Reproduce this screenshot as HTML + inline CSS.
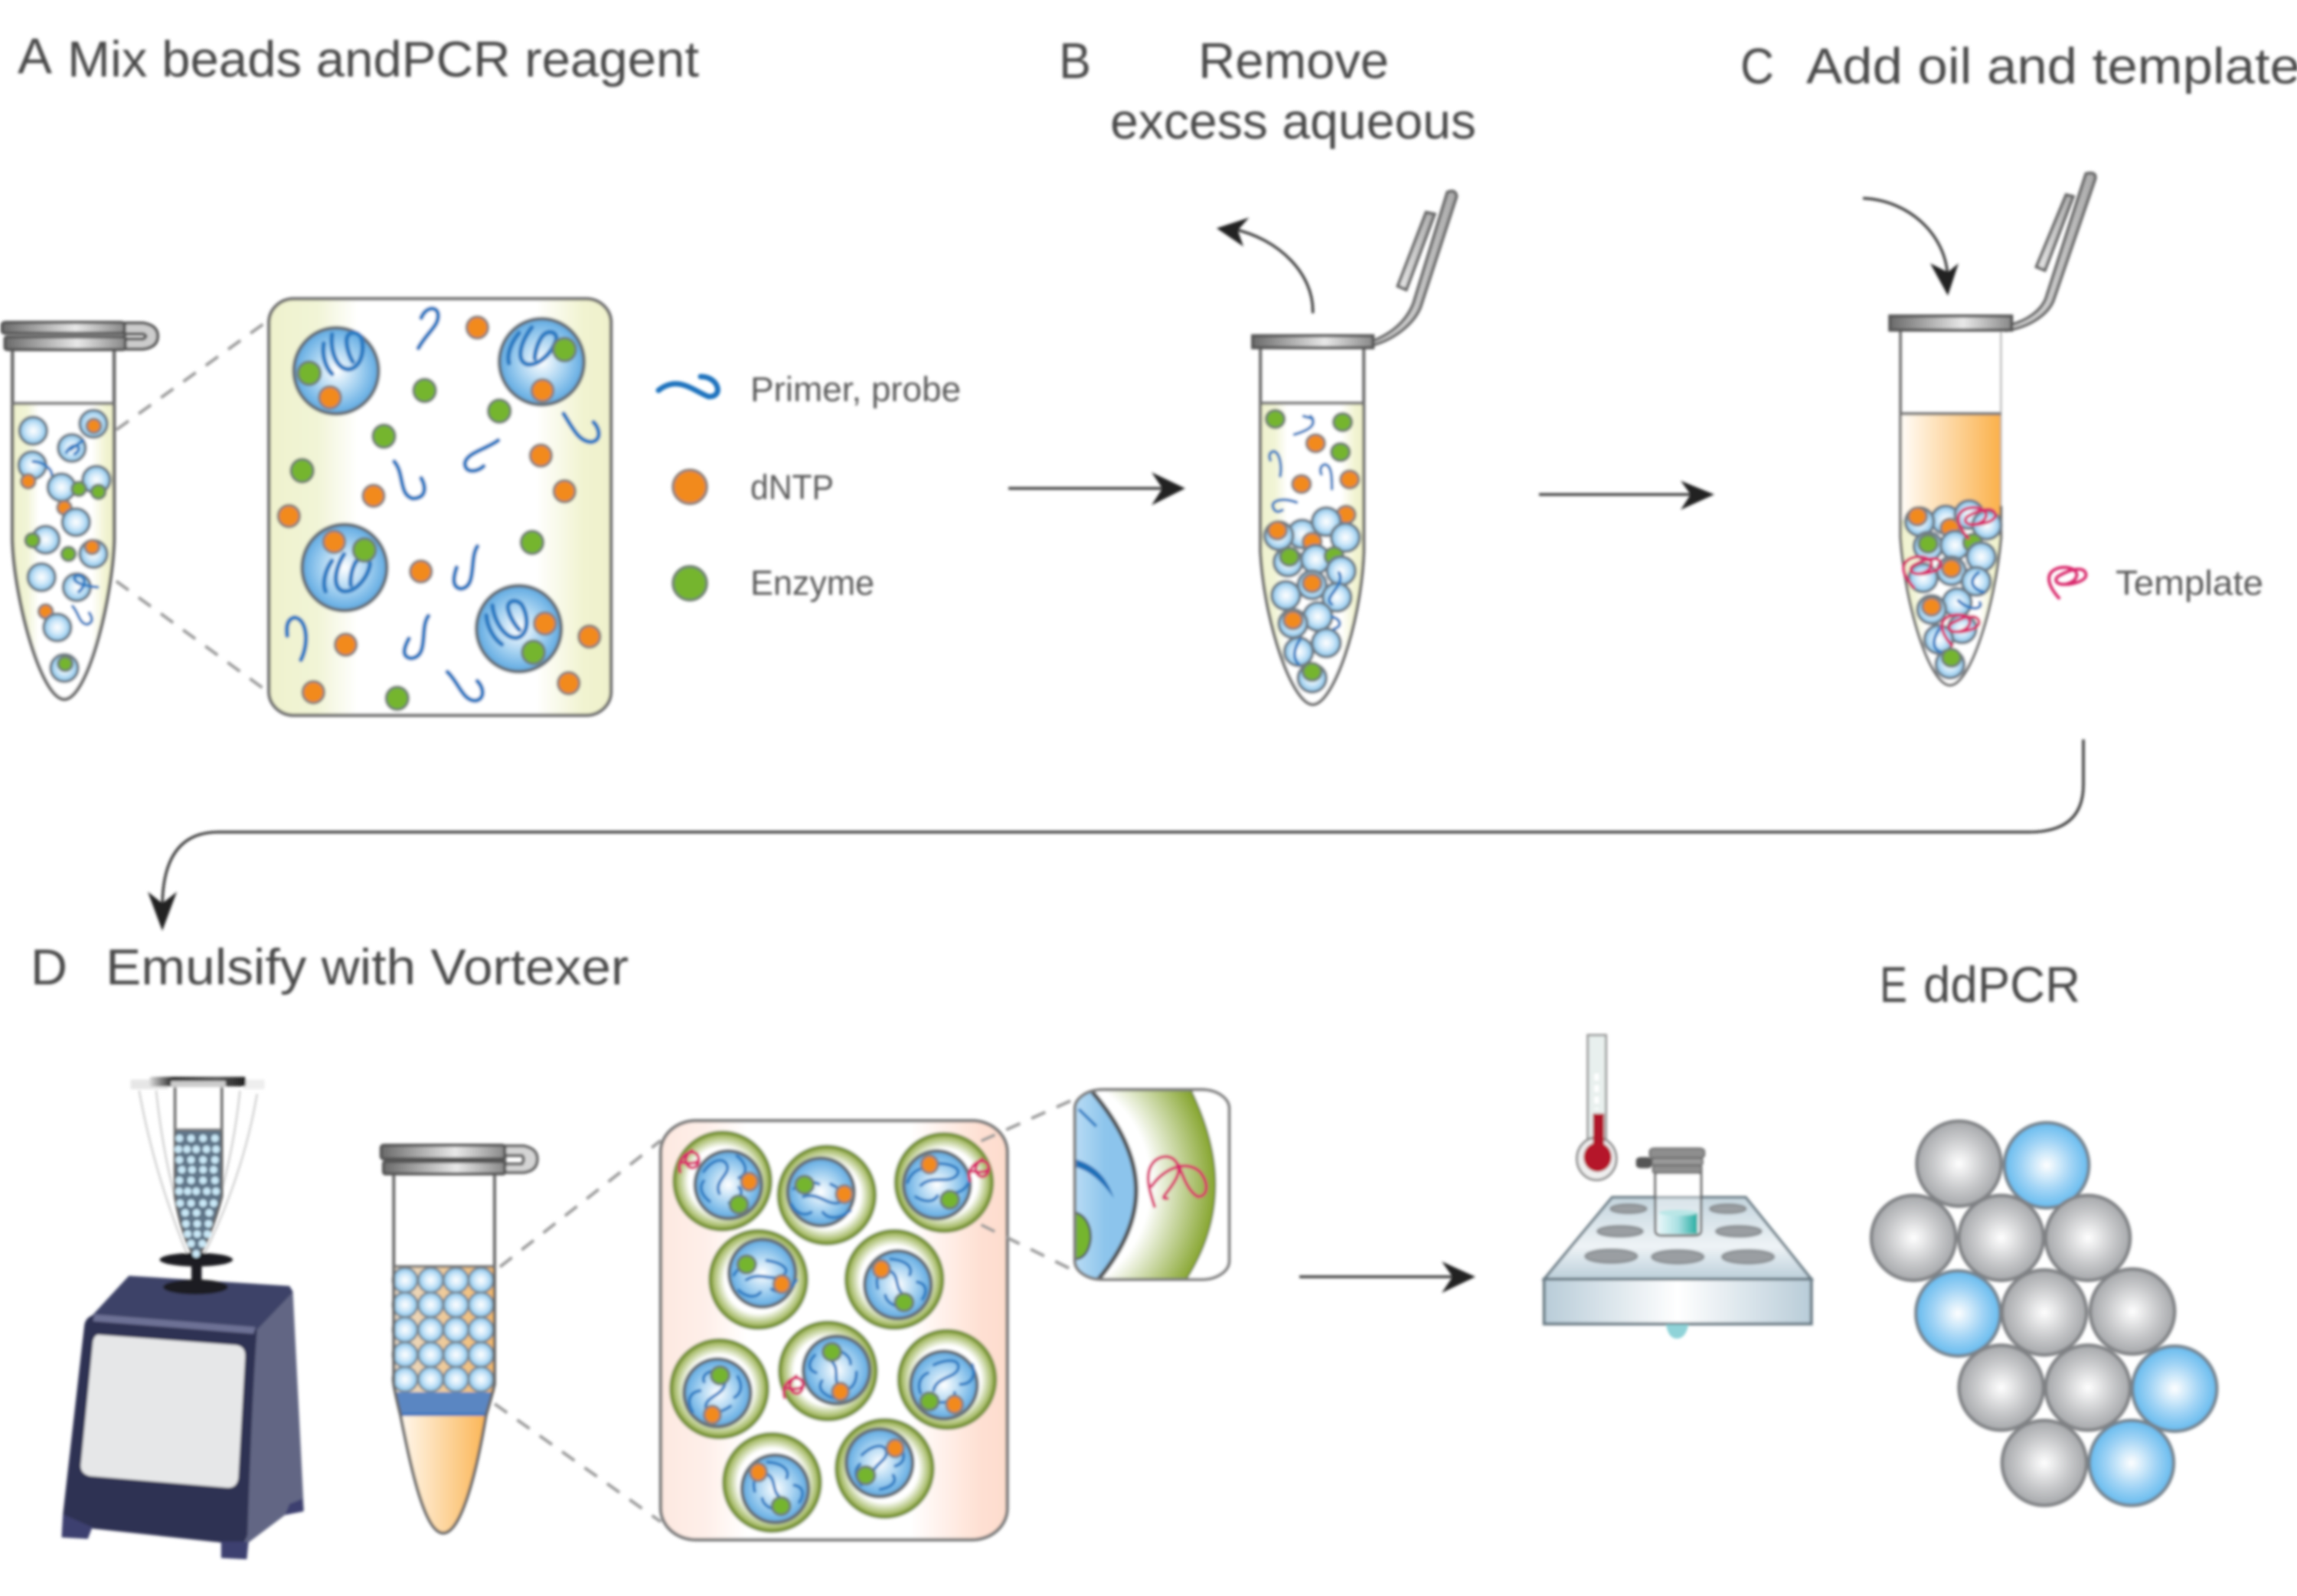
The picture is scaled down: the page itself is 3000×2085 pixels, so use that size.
<!DOCTYPE html>
<html><head><meta charset="utf-8"><title>ddPCR workflow</title>
<style>
html,body{margin:0;padding:0;background:#fff;width:3000px;height:2085px;overflow:hidden}
svg{display:block}
svg *{vector-effect:non-scaling-stroke}
text{font-family:"Liberation Sans",sans-serif;fill:#4a4a4a;stroke:none}
.t{font-size:66px}
.s{font-size:45px;fill:#5a5a5a}
.d{stroke:#999;stroke-width:4;stroke-dasharray:20 16;fill:none}
.bl{stroke:#2a7cc2;stroke-width:6;fill:none;stroke-linecap:round}
.bs{stroke:#2a7cc2;stroke-width:4;fill:none;stroke-linecap:round}
.ar{stroke:#3a3a3a;stroke-width:3.5;fill:none}
.o{fill:#f28a1e;stroke:#8a7f78;stroke-width:3.5}
.g{fill:#74b52f;stroke:#6f7f70;stroke-width:3.5}
.b{fill:url(#bead);stroke:#6f7d88;stroke-width:4}
.B{fill:url(#big);stroke:#66727c;stroke-width:5}
.p{stroke:#d8266a;stroke-width:4;fill:none}
.oo{fill:url(#ring);stroke:#7e9740;stroke-width:5.5}
.s1{fill:url(#gs);stroke:#808285;stroke-width:4.5}
.s2{fill:url(#bs);stroke:#76848f;stroke-width:4.5}
.w{fill:#9a9ea2;stroke:#8a8f93;stroke-width:3}
.cap{fill:url(#cap);stroke:#555;stroke-width:4}
.lid{fill:url(#lid);stroke:#666;stroke-width:4}
</style></head>
<body>
<svg xmlns="http://www.w3.org/2000/svg" width="3000" height="2085" viewBox="0 0 3000 2085">
<defs>
<filter id="bl" x="0" y="0" width="3000" height="2085" filterUnits="userSpaceOnUse"><feGaussianBlur stdDeviation="1.9"/></filter>
<radialGradient id="bead"><stop offset="0" stop-color="#fff"/><stop offset=".5" stop-color="#cfe8f9"/><stop offset="1" stop-color="#84c2ea"/></radialGradient>
<radialGradient id="big"><stop offset="0" stop-color="#fff"/><stop offset=".55" stop-color="#a6d2f1"/><stop offset="1" stop-color="#5ea9e1"/></radialGradient>
<radialGradient id="ring"><stop offset="0" stop-color="#fff"/><stop offset=".7" stop-color="#fff"/><stop offset="1" stop-color="#8fa93f"/></radialGradient>
<radialGradient id="gs"><stop offset="0" stop-color="#fff"/><stop offset=".6" stop-color="#c8c9cb"/><stop offset="1" stop-color="#a6a8ab"/></radialGradient>
<radialGradient id="bs"><stop offset="0" stop-color="#fff"/><stop offset=".6" stop-color="#9fd3f5"/><stop offset="1" stop-color="#66bbef"/></radialGradient>
<linearGradient id="yel"><stop offset="0" stop-color="#eff2cd"/><stop offset=".14" stop-color="#f1f4d6"/><stop offset=".26" stop-color="#fff"/><stop offset=".78" stop-color="#fff"/><stop offset=".92" stop-color="#f1f3d0"/><stop offset="1" stop-color="#eff1cc"/></linearGradient>
<linearGradient id="pink"><stop offset="0" stop-color="#fde8e0"/><stop offset=".13" stop-color="#feefe9"/><stop offset=".25" stop-color="#fff"/><stop offset=".72" stop-color="#fff"/><stop offset=".92" stop-color="#fee0d3"/><stop offset="1" stop-color="#fddccd"/></linearGradient>
<linearGradient id="oil"><stop offset="0" stop-color="#fffdf9"/><stop offset="1" stop-color="#fbb049"/></linearGradient>
<linearGradient id="gel"><stop offset="0" stop-color="#e9dccb"/><stop offset="1" stop-color="#f3b96a"/></linearGradient>
<linearGradient id="cap"><stop offset="0" stop-color="#6a6a6a"/><stop offset=".6" stop-color="#e8e8e8"/><stop offset="1" stop-color="#888"/></linearGradient>
<linearGradient id="lid" x1="0" x2="1"><stop offset="0" stop-color="#e8e8e8"/><stop offset="1" stop-color="#aaa"/></linearGradient>
<linearGradient id="capd"><stop offset="0" stop-color="#ddd"/><stop offset=".25" stop-color="#222"/><stop offset=".7" stop-color="#555"/><stop offset="1" stop-color="#222"/></linearGradient>
<linearGradient id="blk"><stop offset="0" stop-color="#b8ccd8"/><stop offset=".5" stop-color="#fff"/><stop offset="1" stop-color="#b8ccd8"/></linearGradient>
<linearGradient id="blk2" x2="0" y2="1"><stop offset="0" stop-color="#c4d5de"/><stop offset=".6" stop-color="#eef3f6"/><stop offset="1" stop-color="#bccfda"/></linearGradient>
<linearGradient id="liq"><stop offset="0" stop-color="#e4f6f8"/><stop offset=".5" stop-color="#a9e0e2"/><stop offset="1" stop-color="#25ada1"/></linearGradient>
<radialGradient id="zr" gradientUnits="userSpaceOnUse" cx="1004" cy="360" r="461" gradientTransform="translate(0,360) scale(1,1.25) translate(0,-360)"><stop offset=".64" stop-color="#fff"/><stop offset="1" stop-color="#86a52e"/></radialGradient>
<linearGradient id="zb"><stop offset="0" stop-color="#b9dcf5"/><stop offset=".5" stop-color="#8dc5ec"/><stop offset="1" stop-color="#8cc4ec"/></linearGradient>
<clipPath id="zc"><rect x="1105" y="58" width="395" height="607" rx="70" ry="60"/></clipPath>

<ellipse id="a_b" class="b" rx="33" ry="45"/>
<ellipse id="a_o" class="o" rx="17" ry="23"/>
<ellipse id="a_g" class="g" rx="17" ry="23"/>
<ellipse id="a_O" class="o" rx="26" ry="36"/>
<ellipse id="a_G" class="g" rx="27" ry="38"/>
<ellipse id="a_B" class="B" rx="102" ry="142"/>
<g id="a_S"><path class="bl" d="M-25 -80 C-30 -30 -15 35 15 35 C45 30 55 -30 45 -70 C35 -95 10 -90 10 -60 C10 -30 20 0 25 10"/><path class="bl" d="M-45 -50 C-50 -10 -40 30 -25 50"/></g>

<ellipse id="b_b" class="b" rx="20" ry="40"/>
<ellipse id="b_o" class="o" rx="13" ry="25"/>
<ellipse id="b_g" class="g" rx="13" ry="25"/>
<path id="b_T" class="p" d="M-10 50 C-28 10 -32 -25 -12 -38 C10 -48 22 -20 8 0 C-8 20 -22 0 -12 -15 C5 -35 25 -45 27 -20 C28 0 5 10 -5 8"/>

<ellipse id="c_d" fill="#c9e8f7" rx="11" ry="11"/>
<ellipse id="c_B" fill="url(#bead)" stroke="#7b8994" stroke-width="3" rx="36" ry="36"/>

<ellipse id="d_O" class="oo" rx="123" ry="155"/>
<ellipse id="d_I" class="B" rx="85" ry="108"/>
<ellipse id="d_o" class="o" rx="21" ry="28"/>
<ellipse id="d_g" class="g" rx="23" ry="28"/>
<g id="d_S"><path class="bs" d="M-50 -25 C-30 -60 0 -75 10 -45 C18 -15 -25 5 -10 45 M-35 70 C-60 45 -60 20 -50 5 M35 -75 C60 -50 65 -20 40 -5 M15 75 C40 65 55 45 40 25"/></g>
<path id="d_T" class="p" d="M-22 35 C-35 -5 -5 -40 15 -30 C35 -15 20 30 0 15 C-15 0 -10 -25 10 -40 M-22 0 C0 5 20 5 25 -10"/>

<ellipse id="e_g" class="s1" rx="90" ry="130"/>
<ellipse id="e_b" class="s2" rx="90" ry="130"/>
</defs>
<rect width="3000" height="2085" fill="#fff"/>
<g filter="url(#bl)">

<!-- Titles -->
<text class="t" x="23" y="96" textLength="45" lengthAdjust="spacingAndGlyphs">A</text>
<text class="t" x="88" y="100" textLength="825" lengthAdjust="spacingAndGlyphs">Mix beads andPCR reagent</text>
<text class="t" x="1383" y="102" textLength="42" lengthAdjust="spacingAndGlyphs">B</text>
<text class="t" x="1565" y="102" textLength="249" lengthAdjust="spacingAndGlyphs">Remove</text>
<text class="t" x="1450" y="181" textLength="478" lengthAdjust="spacingAndGlyphs">excess aqueous</text>
<text class="t" x="2273" y="109" textLength="44" lengthAdjust="spacingAndGlyphs">C</text>
<text class="t" x="2359" y="109" textLength="645" lengthAdjust="spacingAndGlyphs">Add oil and template</text>
<text class="t" x="40" y="1286" textLength="48" lengthAdjust="spacingAndGlyphs">D</text>
<text class="t" x="138" y="1286" textLength="683" lengthAdjust="spacingAndGlyphs">Emulsify with Vortexer</text>
<text class="t" x="2455" y="1309" textLength="36" lengthAdjust="spacingAndGlyphs">E</text>
<text class="t" x="2512" y="1309" textLength="205" lengthAdjust="spacingAndGlyphs">ddPCR</text>
<text class="s" x="980" y="524" textLength="275" lengthAdjust="spacingAndGlyphs">Primer, probe</text>
<text class="s" x="980" y="652" textLength="109" lengthAdjust="spacingAndGlyphs">dNTP</text>
<text class="s" x="980" y="777" textLength="162" lengthAdjust="spacingAndGlyphs">Enzyme</text>
<text class="s" x="2763" y="777" textLength="193" lengthAdjust="spacingAndGlyphs">Template</text>

<!-- Legend -->
<path d="M860 510 C885 490 905 510 925 518 C945 520 940 492 915 492" fill="none" stroke="#1f72bd" stroke-width="7" stroke-linecap="round"/>
<circle class="o" cx="901" cy="636" r="22"/>
<circle class="g" cx="901" cy="762" r="22"/>

<!-- Straight and long arrows -->
<path class="ar" d="M1317 638 H1530"/><path fill="#222" d="M1548 638 L1504 617 L1518 638 L1504 660Z"/>
<path class="ar" d="M2010 646 H2225"/><path fill="#222" d="M2239 646 L2195 628 L2208 646 L2195 666Z"/>
<path class="ar" d="M1697 1668 H1910"/><path fill="#222" d="M1927 1668 L1883 1648 L1897 1668 L1883 1689Z"/>
<path class="ar" d="M2721 966 V1025 Q2721 1087 2650 1087 H285 Q212 1087 212 1185"/>
<path fill="#222" d="M212 1216 L193 1165 L212 1180 L231 1165Z"/>

<!-- Panel A -->
<g transform="translate(0,350) scale(.5421,.3954)">
 <path d="M30 448 H275 V900 C275 1100 210 1425 155 1425 C100 1425 30 1100 30 900Z" fill="url(#yel)"/>
 <path d="M30 270 V900 C35 1100 100 1425 155 1425 C210 1425 270 1100 275 900 V270" fill="none" stroke="#666" stroke-width="4.5"/>
 <path d="M30 448 H275" stroke="#777" stroke-width="4"/>
 <path d="M300 182 H345 Q380 190 380 225 Q380 262 345 268 H300Z M300 218 H345 Q358 225 345 235 H300Z" fill="#ccc" stroke="#555" stroke-width="4" fill-rule="evenodd"/>
 <rect class="cap" x="5" y="180" width="295" height="36" rx="8"/>
 <rect class="cap" x="12" y="228" width="290" height="42" rx="6"/>
 <use href="#a_b" x="80" y="538"/><use href="#a_b" x="225" y="515"/><use href="#a_o" x="226" y="522"/>
 <use href="#a_b" x="173" y="595"/><path class="bs" d="M160 610 C175 570 205 590 180 615 M200 570 L170 600"/>
 <use href="#a_b" x="78" y="652"/><path class="bs" d="M80 640 C100 640 125 660 125 685"/>
 <use href="#a_o" x="68" y="705"/><use href="#a_b" x="148" y="725"/><use href="#a_b" x="232" y="700"/>
 <use href="#a_g" x="190" y="730"/><use href="#a_g" x="237" y="740"/>
 <use href="#a_o" x="155" y="792"/><use href="#a_b" x="183" y="840"/>
 <use href="#a_b" x="110" y="898"/><use href="#a_g" x="78" y="900"/>
 <use href="#a_b" x="225" y="945"/><use href="#a_g" x="165" y="945"/><use href="#a_o" x="222" y="922"/>
 <use href="#a_b" x="100" y="1022"/><use href="#a_b" x="185" y="1055"/><path class="bs" d="M235 1055 C200 1050 175 1040 180 1020 C200 1005 215 1040 190 1070"/>
 <use href="#a_o" x="110" y="1135"/><use href="#a_b" x="138" y="1188"/>
 <path class="bs" d="M175 1118 C190 1140 190 1175 210 1178 C228 1170 220 1150 215 1140"/>
 <use href="#a_b" x="155" y="1322"/><use href="#a_g" x="157" y="1308"/>
 <path class="d" d="M280 535 L645 175 M280 1035 L640 1395"/>
 <rect x="648" y="102" width="824" height="1376" rx="60" ry="78" fill="url(#yel)" stroke="#6f6f6f" stroke-width="4.5"/>
 <use href="#a_B" x="810" y="340"/><use href="#a_S" transform="translate(825,300)"/><use href="#a_G" x="745" y="348"/><use href="#a_O" x="795" y="428"/>
 <use href="#a_B" x="1305" y="310"/><use href="#a_S" transform="translate(1270,280) rotate(25)"/><use href="#a_G" x="1360" y="270"/><use href="#a_O" x="1307" y="405"/>
 <use href="#a_B" x="830" y="990"/><use href="#a_S" transform="translate(825,1030) rotate(20)"/><use href="#a_O" x="805" y="905"/><use href="#a_G" x="878" y="932"/>
 <use href="#a_B" x="1250" y="1192"/><use href="#a_S" transform="translate(1225,1190) rotate(-10)"/><use href="#a_O" x="1313" y="1175"/><use href="#a_G" x="1285" y="1270"/>
 <use href="#a_O" x="1150" y="197"/><use href="#a_O" x="1303" y="620"/><use href="#a_O" x="1360" y="738"/><use href="#a_O" x="900" y="753"/><use href="#a_O" x="696" y="820"/><use href="#a_O" x="1014" y="1003"/><use href="#a_O" x="833" y="1245"/><use href="#a_O" x="1420" y="1218"/><use href="#a_O" x="1370" y="1372"/><use href="#a_O" x="755" y="1402"/>
 <use href="#a_G" x="1023" y="405"/><use href="#a_G" x="1203" y="473"/><use href="#a_G" x="925" y="556"/><use href="#a_G" x="728" y="670"/><use href="#a_G" x="1282" y="907"/><use href="#a_G" x="957" y="1422"/>
 <path class="bl" d="M1008 265 C1030 210 1060 190 1055 150 C1050 125 1025 130 1015 165"/>
 <path class="bl" d="M1358 482 C1380 530 1395 575 1425 575 C1450 570 1445 530 1430 510"/>
 <path class="bl" d="M1200 570 C1170 600 1125 610 1120 645 C1120 680 1150 675 1165 655"/>
 <path class="bl" d="M950 640 C975 680 960 750 995 762 C1030 760 1025 720 1015 695"/>
 <path class="bl" d="M1150 920 C1130 960 1150 1055 1110 1060 C1085 1055 1095 1010 1100 990"/>
 <path class="bl" d="M725 1295 C745 1240 740 1160 710 1155 C690 1160 690 1190 692 1215"/>
 <path class="bl" d="M1032 1150 C1010 1190 1035 1285 990 1290 C965 1285 975 1250 985 1225"/>
 <path class="bl" d="M1078 1335 C1105 1370 1115 1430 1145 1430 C1170 1425 1165 1385 1150 1365"/>
</g>

<!-- Panels B & C -->
<g transform="translate(1550,220) scale(.9247,.4592)">
 <path class="ar" d="M178 412 C180 300 130 200 65 172"/><path fill="#222" d="M42 170 L88 140 L72 176 L80 222Z"/>
 <path class="ar" d="M955 85 C1020 90 1075 190 1075 320"/><path fill="#222" d="M1075 362 L1050 270 L1075 295 L1090 270Z"/>
 <!-- tube B -->
 <path d="M104 668 H250 V1090 C246 1300 206 1525 178 1525 C150 1525 110 1300 104 1090Z" fill="url(#yel)"/>
 <path d="M104 510 V1090 C110 1300 150 1525 178 1525 C206 1525 246 1300 250 1090 V510" fill="none" stroke="#666" stroke-width="4"/>
 <path d="M104 668 H250" stroke="#777" stroke-width="4"/>
 <path d="M262 492 C290 470 310 435 320 385 L368 68 Q380 58 381 80 L330 395 C320 445 290 490 258 505Z" class="lid"/>
 <path d="M298 335 L338 125 L350 130 L310 345Z" class="lid"/>
 <rect class="cap" x="93" y="476" width="170" height="34"/>
 <use href="#b_g" x="125" y="713"/><use href="#b_g" x="220" y="722"/><use href="#b_g" x="217" y="807"/>
 <use href="#b_o" x="182" y="782"/><use href="#b_o" x="162" y="898"/><use href="#b_o" x="230" y="885"/><use href="#b_o" x="225" y="985"/>
 <path class="bs" d="M152 757 C172 745 185 730 175 705 M165 705 L178 712"/>
 <path class="bs" d="M132 875 C135 840 130 805 122 805 C116 808 116 820 118 830"/>
 <path class="bs" d="M205 912 C205 880 205 845 195 842 C188 845 188 860 190 870"/>
 <path class="bs" d="M155 950 C135 935 118 945 122 965 C125 980 130 978 135 972"/>
 <use href="#b_b" x="163" y="1040"/><use href="#b_b" x="130" y="1045"/><use href="#b_b" x="197" y="1005"/><use href="#b_b" x="224" y="1050"/>
 <use href="#b_o" x="128" y="1030"/><use href="#b_o" x="177" y="1062"/>
 <use href="#b_b" x="143" y="1120"/><use href="#b_g" x="145" y="1105"/><use href="#b_b" x="182" y="1112"/><use href="#b_g" x="208" y="1103"/>
 <use href="#b_b" x="218" y="1145"/><use href="#b_b" x="177" y="1185"/><use href="#b_o" x="177" y="1180"/>
 <use href="#b_b" x="140" y="1215"/><use href="#b_b" x="212" y="1220"/><use href="#b_b" x="185" y="1275"/>
 <use href="#b_b" x="150" y="1295"/><use href="#b_o" x="150" y="1285"/>
 <use href="#b_b" x="197" y="1350"/><use href="#b_b" x="158" y="1375"/>
 <use href="#b_b" x="177" y="1450"/><use href="#b_g" x="177" y="1432"/>
 <path class="bs" d="M215 1150 C225 1190 190 1220 205 1240 M205 1275 C220 1285 218 1305 208 1310 M160 1340 C150 1370 150 1395 158 1410"/>
 <!-- tube C -->
 <path d="M1008 698 H1150 V1050 L1130 1040 H1020 L1008 1050Z" fill="url(#oil)"/>
 <path d="M1008 1000 H1150 V1050 C1141 1250 1106 1470 1078 1470 C1050 1470 1015 1250 1008 1050Z" fill="url(#yel)"/>
 <path d="M1008 460 V1050 C1015 1250 1050 1470 1078 1470 C1106 1470 1141 1250 1150 1050 V960" fill="none" stroke="#666" stroke-width="3.5"/>
 <path d="M1150 460 V960" stroke="#aaa" stroke-width="2"/>
 <path d="M1008 698 H1150" stroke="#777" stroke-width="4"/>
 <path d="M1165 445 C1190 430 1210 400 1215 360 L1270 15 Q1285 8 1283 30 L1225 370 C1218 415 1190 450 1160 460Z" class="lid"/>
 <path d="M1200 280 L1242 75 L1252 80 L1212 290Z" class="lid"/>
 <rect class="cap" x="993" y="420" width="172" height="40"/>
 <use href="#b_b" x="1072" y="1000"/><use href="#b_b" x="1105" y="985"/><use href="#b_b" x="1130" y="1015"/><use href="#b_b" x="1035" y="1005"/><use href="#b_o" x="1032" y="990"/>
 <use href="#b_o" x="1078" y="1022"/>
 <use href="#b_b" x="1047" y="1075"/><use href="#b_g" x="1047" y="1068"/><use href="#b_b" x="1085" y="1072"/><use href="#b_g" x="1110" y="1065"/>
 <use href="#b_b" x="1122" y="1105"/><use href="#b_b" x="1080" y="1145"/><use href="#b_o" x="1080" y="1138"/>
 <use href="#b_b" x="1040" y="1165"/><use href="#b_b" x="1115" y="1175"/><use href="#b_b" x="1088" y="1235"/>
 <use href="#b_b" x="1052" y="1255"/><use href="#b_o" x="1052" y="1247"/><use href="#b_b" x="1095" y="1310"/><use href="#b_b" x="1062" y="1340"/>
 <use href="#b_b" x="1078" y="1410"/><use href="#b_g" x="1080" y="1392"/>
 <path class="bs" d="M1118 1150 C1100 1180 1115 1200 1125 1205 M1090 1230 C1110 1265 1125 1250 1120 1235 M1065 1305 C1050 1345 1055 1370 1065 1375"/>
 <use href="#b_T" x="1115" y="1005"/><use href="#b_T" x="1038" y="1145"/><use href="#b_T" x="1092" y="1310"/>
 <use href="#b_T" x="1243" y="1175"/>
</g>

<!-- Panel D: vortexer + tube -->
<g transform="translate(50,1380) scale(.4464,.4464)">
 <path d="M295 100 Q340 350 440 590 M345 100 Q370 350 450 580 M640 110 Q600 350 480 590 M590 100 Q565 350 475 580" fill="none" stroke="#cfcfcf" stroke-width="2.5"/>
 <rect x="270" y="68" width="110" height="28" fill="#e6e6e6"/><rect x="600" y="68" width="62" height="28" fill="#eee"/>
 <path d="M400 215 H537 V410 Q505 530 462 595 Q420 530 400 410Z" fill="#5f7488"/>
 <path d="M400 90 V410 Q420 530 462 595 Q505 530 537 410 V90" fill="none" stroke="#666" stroke-width="3.5"/>
 <path d="M400 215 H537" stroke="#777" stroke-width="3"/>
 <rect x="325" y="60" width="282" height="28" rx="6" fill="url(#capd)"/>
 <rect x="388" y="72" width="160" height="18" fill="#ccc"/>
 <g><use href="#c_d" x="413" y="240"/><use href="#c_d" x="447" y="240"/><use href="#c_d" x="482" y="240"/><use href="#c_d" x="517" y="240"/>
 <use href="#c_d" x="410" y="272"/><use href="#c_d" x="435" y="272"/><use href="#c_d" x="462" y="272"/><use href="#c_d" x="492" y="272"/><use href="#c_d" x="520" y="272"/>
 <use href="#c_d" x="413" y="303"/><use href="#c_d" x="447" y="303"/><use href="#c_d" x="482" y="303"/><use href="#c_d" x="517" y="303"/>
 <use href="#c_d" x="420" y="332"/><use href="#c_d" x="450" y="332"/><use href="#c_d" x="482" y="332"/><use href="#c_d" x="513" y="332"/>
 <use href="#c_d" x="413" y="363"/><use href="#c_d" x="447" y="363"/><use href="#c_d" x="482" y="363"/><use href="#c_d" x="517" y="363"/>
 <use href="#c_d" x="412" y="395"/><use href="#c_d" x="437" y="395"/><use href="#c_d" x="462" y="395"/><use href="#c_d" x="493" y="395"/><use href="#c_d" x="520" y="395"/>
 <use href="#c_d" x="415" y="430"/><use href="#c_d" x="447" y="430"/><use href="#c_d" x="482" y="430"/><use href="#c_d" x="513" y="430"/>
 <use href="#c_d" x="430" y="458"/><use href="#c_d" x="463" y="458"/><use href="#c_d" x="500" y="458"/>
 <use href="#c_d" x="432" y="490"/><use href="#c_d" x="465" y="490"/><use href="#c_d" x="498" y="490"/>
 <use href="#c_d" x="437" y="520"/><use href="#c_d" x="465" y="520"/><use href="#c_d" x="495" y="520"/>
 <use href="#c_d" x="447" y="548"/><use href="#c_d" x="480" y="548"/></g>
 <!-- body -->
 <path d="M640 790 L720 680 Q742 672 745 692 L777 1330 L722 1342 L612 1425 L590 1400Z" fill="#626684"/>
 <path d="M145 772 L265 642 L735 672 L745 690 L640 800Z" fill="#3d4268"/>
 <path d="M135 785 Q140 760 170 755 L640 800 Q625 1000 612 1400 L600 1430 L160 1382 L80 1350 L72 1340Z" fill="#2e3153"/>
 <path d="M72 1340 L68 1408 L145 1412 L158 1378Z" fill="#3c4170"/>
 <path d="M535 1420 L535 1468 L610 1472 L615 1420Z" fill="#3c4170"/>
 <path d="M722 1342 L775 1332 L772 1295 L735 1310Z" fill="#3c4170"/>
 <path d="M165 755 L635 792 L630 812 L160 775Z" fill="#6d7195"/>
 <path d="M180 815 L580 845 Q607 850 605 880 L585 1235 Q580 1265 550 1262 L150 1228 Q120 1220 125 1190 L160 835 Q165 812 180 815Z" fill="#e6e7e8"/>
 <ellipse cx="462" cy="595" rx="107" ry="20" fill="#1d1d20"/>
 <rect x="448" y="600" width="30" height="65" fill="#1d1d20"/>
 <ellipse cx="460" cy="675" rx="95" ry="22" fill="#1d1d20"/>
 <use href="#c_d" x="462" y="578"/>
 <!-- tube -->
 <path d="M1041 985 H1330 L1312 1050 C1285 1200 1240 1395 1185 1395 C1130 1395 1090 1200 1060 1050Z" fill="url(#oil)"/>
 <rect x="1040" y="615" width="295" height="370" fill="url(#gel)"/>
 <g>
 <use href="#c_B" x="1073" y="655"/><use href="#c_B" x="1148" y="655"/><use href="#c_B" x="1222" y="655"/><use href="#c_B" x="1295" y="655"/>
 <use href="#c_B" x="1073" y="727"/><use href="#c_B" x="1148" y="727"/><use href="#c_B" x="1222" y="727"/><use href="#c_B" x="1295" y="727"/>
 <use href="#c_B" x="1073" y="800"/><use href="#c_B" x="1148" y="800"/><use href="#c_B" x="1222" y="800"/><use href="#c_B" x="1295" y="800"/>
 <use href="#c_B" x="1073" y="873"/><use href="#c_B" x="1148" y="873"/><use href="#c_B" x="1222" y="873"/><use href="#c_B" x="1295" y="873"/>
 <use href="#c_B" x="1073" y="945"/><use href="#c_B" x="1148" y="945"/><use href="#c_B" x="1222" y="945"/><use href="#c_B" x="1295" y="945"/>
 </g>
 <path d="M1042 983 H1332 L1314 1052 H1058Z" fill="#5a86c2"/>
 <path d="M1058 1048 H1314" stroke="#3f78be" stroke-width="4"/>
 <path d="M1040 345 V960 Q1045 990 1060 1050 C1090 1200 1130 1395 1185 1395 C1240 1395 1285 1200 1310 1050 Q1325 1000 1335 960 V345" fill="none" stroke="#666" stroke-width="4"/>
 <path d="M1040 615 H1335" stroke="#777" stroke-width="3.5"/>
 <path d="M1360 262 H1420 Q1460 270 1460 300 Q1460 335 1420 340 H1360Z M1365 290 H1415 Q1425 300 1415 315 H1365Z" fill="#d4d4d4" stroke="#666" stroke-width="4" fill-rule="evenodd"/>
 <rect class="cap" x="1003" y="260" width="362" height="40" rx="8"/>
 <rect class="cap" x="1010" y="308" width="355" height="36" rx="6"/>
</g>

<path class="d" d="M653 1655 L863 1490 M646 1834 L863 1988"/>

<!-- Droplet panel -->
<g transform="translate(840,1400) scale(.5102,.4082)">
 <rect x="45" y="157" width="887" height="1341" rx="90" ry="100" fill="url(#pink)" stroke="#7c7c7c" stroke-width="4.5"/>
 <use href="#d_O" x="203" y="350"/><use href="#d_I" x="218" y="362"/><use href="#d_S" transform="translate(205,345)"/><use href="#d_o" x="272" y="352"/><use href="#d_g" x="245" y="425"/><use href="#d_T" x="118" y="290"/>
 <use href="#d_O" x="470" y="395"/><use href="#d_I" x="455" y="385"/><use href="#d_S" transform="translate(455,410) rotate(90)"/><use href="#d_g" x="413" y="362"/><use href="#d_o" x="515" y="392"/>
 <use href="#d_O" x="770" y="355"/><use href="#d_I" x="752" y="362"/><use href="#d_S" transform="translate(755,350) rotate(60)"/><use href="#d_o" x="733" y="297"/><use href="#d_g" x="785" y="410"/><use href="#d_T" x="860" y="318"/>
 <use href="#d_O" x="295" y="665"/><use href="#d_I" x="305" y="645"/><use href="#d_S" transform="translate(310,660) rotate(70)"/><use href="#d_g" x="265" y="617"/><use href="#d_o" x="355" y="680"/>
 <use href="#d_O" x="643" y="665"/><use href="#d_I" x="652" y="682"/><use href="#d_S" transform="translate(655,680) rotate(-40)"/><use href="#d_o" x="610" y="632"/><use href="#d_g" x="668" y="738"/>
 <use href="#d_O" x="195" y="1015"/><use href="#d_I" x="190" y="1028"/><use href="#d_S" transform="translate(185,1030) rotate(200)"/><use href="#d_g" x="197" y="972"/><use href="#d_o" x="177" y="1098"/>
 <use href="#d_O" x="473" y="958"/><use href="#d_I" x="495" y="955"/><use href="#d_S" transform="translate(490,965) rotate(150)"/><use href="#d_g" x="483" y="897"/><use href="#d_o" x="505" y="1024"/><use href="#d_T" x="385" y="1012"/>
 <use href="#d_O" x="778" y="985"/><use href="#d_I" x="770" y="1003"/><use href="#d_S" transform="translate(775,985) rotate(30)"/><use href="#d_g" x="733" y="1055"/><use href="#d_o" x="797" y="1065"/>
 <use href="#d_O" x="330" y="1315"/><use href="#d_I" x="338" y="1335"/><use href="#d_S" transform="translate(340,1330) rotate(-40)"/><use href="#d_o" x="295" y="1282"/><use href="#d_g" x="353" y="1390"/>
 <use href="#d_O" x="618" y="1270"/><use href="#d_I" x="605" y="1252"/><use href="#d_S" transform="translate(605,1260) rotate(10)"/><use href="#d_o" x="645" y="1205"/><use href="#d_g" x="570" y="1292"/>
 <path class="d" d="M865 222 L1100 90 M865 490 L1100 635"/>
 <g clip-path="url(#zc)">
  <rect x="1105" y="58" width="395" height="607" fill="#fff"/>
  <path d="M1150 58 H1402 Q1465 220 1465 360 Q1465 520 1390 665 H1165 Q1262 520 1262 380 Q1262 230 1150 58Z" fill="url(#zr)"/>
  <path d="M1105 58 H1150 Q1262 230 1262 380 Q1262 520 1165 665 H1105Z" fill="url(#zb)"/>
  <path d="M1150 65 Q1262 230 1262 380 Q1262 520 1165 665" fill="none" stroke="#55595c" stroke-width="6"/>
  <path d="M1402 58 Q1465 220 1465 360 Q1465 520 1390 665" fill="none" stroke="#6e7f3a" stroke-width="2"/>
  <path d="M1105 280 C1150 295 1185 330 1205 405 C1170 345 1140 315 1105 305Z" fill="#1f6fb8"/>
  <path d="M1115 120 L1160 175" stroke="#2e7fc4" stroke-width="4"/>
  <path d="M1105 450 C1135 460 1148 500 1145 540 C1140 580 1125 600 1105 600Z" fill="#74b52f" stroke="#55595c" stroke-width="3"/>
  <path class="p" d="M1310 435 C1295 380 1280 320 1310 285 C1345 250 1385 290 1365 340 C1345 390 1315 410 1345 405 M1300 370 C1330 310 1390 280 1425 320 C1450 360 1445 400 1420 400 C1395 385 1380 330 1370 295" stroke-width="4.5"/>
 </g>
 <rect x="1105" y="58" width="395" height="607" rx="70" ry="60" fill="none" stroke="#7c7c7c" stroke-width="4"/>
</g>

<!-- Panel E -->
<g transform="translate(1980,1330) scale(.6122,.4273)">
 <rect x="153" y="52" width="39" height="350" fill="#e8f0ee" stroke="#999" stroke-width="3"/>
 <ellipse cx="172" cy="430" rx="42" ry="65" fill="#eee" stroke="#888" stroke-width="3"/>
 <rect x="164" y="292" width="24" height="120" fill="#b0162a"/>
 <ellipse cx="174" cy="425" rx="30" ry="45" fill="#b5122a"/>
 <path d="M172 170 V280" stroke="#fff" stroke-width="6" stroke-dasharray="9 6"/>
 <path d="M205 548 H490 L630 798 H60Z" fill="url(#blk2)" stroke="#6b7b85" stroke-width="3.5"/>
 <rect x="60" y="798" width="570" height="137" fill="url(#blk)" stroke="#6b7b85" stroke-width="4"/>
 <ellipse class="w" cx="240" cy="583" rx="38" ry="13"/><ellipse class="w" cx="452" cy="583" rx="38" ry="13"/>
 <ellipse class="w" cx="222" cy="652" rx="48" ry="16"/><ellipse class="w" cx="475" cy="652" rx="48" ry="16"/>
 <ellipse class="w" cx="203" cy="728" rx="55" ry="20"/><ellipse class="w" cx="345" cy="730" rx="55" ry="20"/><ellipse class="w" cx="495" cy="730" rx="55" ry="20"/>
 <path d="M320 937 Q325 980 343 980 Q362 980 368 937Z" fill="#8fd3d8"/>
 <path d="M297 470 V650 Q297 665 312 665 H380 Q395 665 395 650 V470" fill="#fff" fill-opacity=".35" stroke="#666" stroke-width="3"/>
 <path d="M305 595 H387 V660 H305Z" fill="url(#liq)"/>
 <ellipse cx="346" cy="595" rx="41" ry="9" fill="#b9e6e6"/>
 <rect x="256" y="425" width="34" height="34" rx="10" fill="#555"/>
 <rect x="285" y="398" width="117" height="30" rx="10" fill="#8e8e8e" stroke="#666" stroke-width="2"/>
 <rect x="290" y="428" width="108" height="22" rx="6" fill="#9a9a9a" stroke="#666" stroke-width="2"/>
 <rect x="292" y="450" width="104" height="24" rx="6" fill="#8e8e8e" stroke="#666" stroke-width="2"/>
 <use href="#e_g" x="945" y="445"/><use href="#e_b" x="1132" y="450"/>
 <use href="#e_g" x="848" y="672"/><use href="#e_g" x="1035" y="672"/><use href="#e_g" x="1220" y="672"/>
 <use href="#e_b" x="943" y="903"/><use href="#e_g" x="1127" y="900"/><use href="#e_g" x="1315" y="897"/>
 <use href="#e_g" x="1035" y="1130"/><use href="#e_g" x="1220" y="1130"/><use href="#e_b" x="1405" y="1133"/>
 <use href="#e_g" x="1127" y="1360"/><use href="#e_b" x="1313" y="1360"/>
</g>
</g>
</svg>
</body></html>
